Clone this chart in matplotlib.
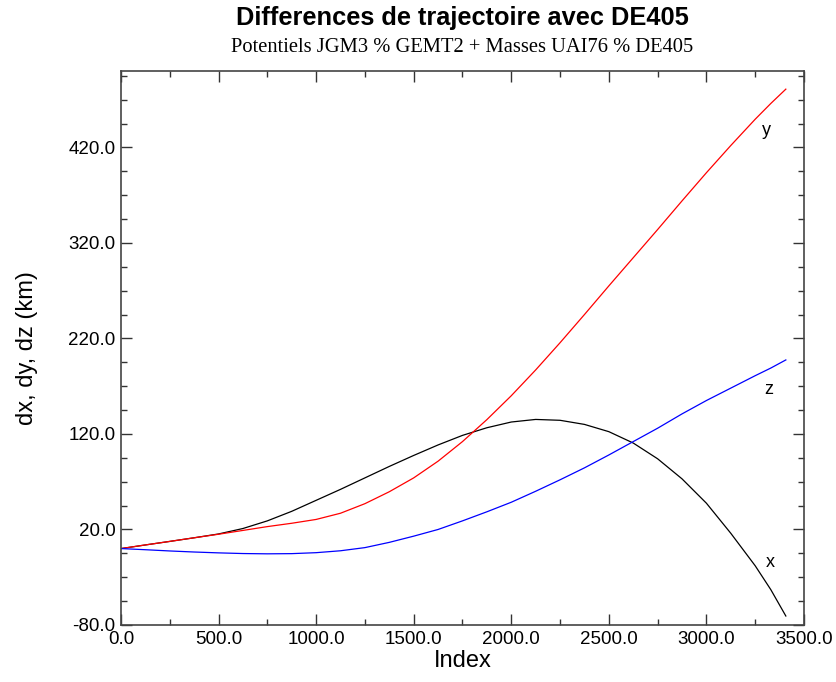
import matplotlib
matplotlib.use("Agg")
import matplotlib.pyplot as plt
from matplotlib.ticker import MultipleLocator, FormatStrFormatter

# values (index, km)
idx = [0, 125, 250, 375, 500, 625, 750, 875, 1000, 1125, 1250, 1375,
       1500, 1625, 1750, 1875, 2000, 2125, 2250, 2375, 2500, 2625,
       2750, 2875, 3000, 3125, 3250, 3330, 3407]
dx = [0, 3.8, 7.5, 11.3, 15.3, 21, 29, 39, 50.5, 62, 74, 86,
      97.5, 108.5, 118.5, 126.5, 132.5, 135.2, 134.3, 130, 122.4, 110.5,
      94, 73, 47.5, 16, -18, -43, -70.6]
dy = [0, 3.8, 7.5, 11.3, 15, 19, 23, 26.5, 30.5, 37, 47, 59.5,
      74, 91.5, 112, 135, 160, 187, 215.5, 245, 275, 304.5,
      334, 364, 393.5, 422, 449.5, 466, 481]
dz = [0, -1.2, -2.5, -3.6, -4.5, -5.2, -5.5, -5.3, -4.3, -2.3, 1, 6.5,
      13, 20, 29, 38.5, 48.5, 60, 72, 84.5, 98, 112,
      126, 141, 155, 168, 181, 189, 197.5]

curve_labels = ["x", "y", "z"]
label_pos = [(3326, -15), (3305, 438), (3320, 167)]

fig = plt.figure(figsize=(8.36, 6.82), dpi=100)
ax = fig.add_axes([0.1447, 0.0836, 0.817, 0.8123])

ax.plot(idx, dx, color="black", lw=0.9)
ax.plot(idx, dy, color="red", lw=0.9)
ax.plot(idx, dz, color="blue", lw=0.9)

for lab, (px, py) in zip(curve_labels, label_pos):
    ax.text(px, py, lab, fontsize=13, family="Liberation Sans",
            ha="center", va="center")

ax.set_xlim(0, 3500)
ax.set_ylim(-80, 500)
ax.xaxis.set_major_locator(MultipleLocator(500))
ax.xaxis.set_minor_locator(MultipleLocator(250))
ax.set_yticks([-80, 20, 120, 220, 320, 420])
ax.yaxis.set_minor_locator(MultipleLocator(25, offset=20))
ax.xaxis.set_major_formatter(FormatStrFormatter("%.1f"))
ax.yaxis.set_major_formatter(FormatStrFormatter("%.1f"))

ax.tick_params(which="both", direction="in", top=True, right=True,
               colors="#333333", labelcolor="black", width=1.0)
ax.tick_params(which="major", length=8, labelsize=13.5, pad=4)
ax.tick_params(which="minor", length=4)
for lbl in ax.get_xticklabels() + ax.get_yticklabels():
    lbl.set_family("Liberation Sans")
for s in ax.spines.values():
    s.set_color("#444444")
    s.set_linewidth(1.2)

ax.set_xlabel("Index", fontsize=17, family="Liberation Sans", labelpad=2)
ax.set_ylabel("dx, dy, dz (km)", fontsize=17, family="Liberation Sans",
              labelpad=22)

# titles centred over the plot area
cx = 0.1447 + 0.817 / 2
fig.text(cx, 0.974, "Differences de trajectoire avec DE405",
         ha="center", va="center", fontsize=18.3, fontweight="bold",
         family="Liberation Sans")
fig.text(cx, 0.930, "Potentiels JGM3 % GEMT2 + Masses UAI76 % DE405",
         ha="center", va="center", fontsize=14.8, family="Liberation Serif")

fig.savefig("out.png", dpi=100)
